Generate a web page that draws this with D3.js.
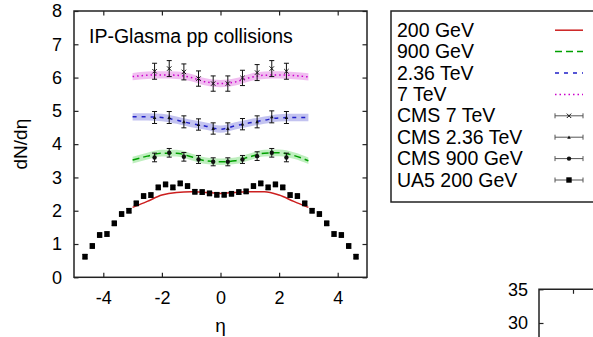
<!DOCTYPE html>
<html>
<head>
<meta charset="utf-8">
<script src="https://cdn.jsdelivr.net/npm/d3@7"></script>
<style>
  body { margin: 0; background: #fff; }
  svg { font-family: "Liberation Sans", Arial, sans-serif; }
</style>
</head>
<body>
<div class="container"></div>
<script>
// theory curves (IP-Glasma), eta grid
const thEta = [-3, -2.5, -2, -1.5, -1, -0.5, 0, 0.5, 1, 1.5, 2, 2.5, 3];
const th200 = [2.10, 2.28, 2.47, 2.55, 2.57, 2.55, 2.52, 2.55, 2.57, 2.57, 2.47, 2.28, 2.10];
const th900 = [3.52, 3.64, 3.73, 3.73, 3.62, 3.50, 3.47, 3.50, 3.62, 3.73, 3.74, 3.66, 3.50];
const th236 = [4.82, 4.82, 4.80, 4.72, 4.62, 4.54, 4.45, 4.55, 4.64, 4.72, 4.79, 4.80, 4.80];
const th7 = [6.03, 6.07, 6.08, 6.07, 6.00, 5.87, 5.82, 5.87, 6.00, 6.07, 6.08, 6.06, 6.02];
const bandHalf = [0, 0.10, 0.11, 0.11];

// CMS data
const cmsEta = [-2.25, -1.75, -1.25, -0.75, -0.25, 0.25, 0.75, 1.25, 1.75, 2.25];
const cms7 = [6.19, 6.27, 6.17, 5.97, 5.82, 5.82, 5.99, 6.15, 6.27, 6.19];
const cms7Err = [0.24, 0.24, 0.24, 0.23, 0.23, 0.23, 0.23, 0.24, 0.24, 0.24];
const cms236 = [4.80, 4.80, 4.67, 4.59, 4.47, 4.47, 4.60, 4.67, 4.82, 4.80];
const cms236Err = [0.18, 0.18, 0.18, 0.17, 0.17, 0.17, 0.17, 0.18, 0.18, 0.18];
const cms900 = [3.60, 3.74, 3.62, 3.54, 3.47, 3.47, 3.54, 3.64, 3.74, 3.60];
const cms900Err = [0.13, 0.13, 0.13, 0.12, 0.12, 0.12, 0.12, 0.13, 0.13, 0.13];

// UA5 data
const ua5Eta = [-4.625, -4.375, -4.125, -3.875, -3.625, -3.375, -3.125, -2.875, -2.625, -2.375,
  -2.125, -1.875, -1.625, -1.375, -1.125, -0.875, -0.625, -0.375, -0.125,
  0.125, 0.375, 0.625, 0.875, 1.125, 1.375, 1.625, 1.875, 2.125, 2.375,
  2.625, 2.875, 3.125, 3.375, 3.625, 3.875, 4.125, 4.375, 4.625];
const ua5 = [0.62, 0.94, 1.27, 1.30, 1.62, 1.90, 2.00, 2.22, 2.44, 2.47,
  2.70, 2.79, 2.70, 2.82, 2.74, 2.57, 2.56, 2.52, 2.48,
  2.48, 2.51, 2.56, 2.58, 2.74, 2.82, 2.70, 2.79, 2.70, 2.47,
  2.44, 2.22, 2.00, 1.90, 1.62, 1.30, 1.27, 0.94, 0.62];
const ua5Err = 0.07;

const xTicks = [-4, -2, 0, 2, 4];
const yTicks = [0, 1, 2, 3, 4, 5, 6, 7, 8];
const insetYTicks = [30, 35];
const insetXTicks = [1, 2];

const legendLabels = ["200 GeV", "900 GeV", "2.36 TeV", "7 TeV",
  "CMS 7 TeV", "CMS 2.36 TeV", "CMS 900 GeV", "UA5 200 GeV"];

const W = 593, H = 337;
const plot = { left: 74, top: 11, right: 367, bottom: 277.3 };

const svg = d3.select(".container").append("svg")
  .attr("width", W).attr("height", H);

const x = d3.scaleLinear().domain([-5, 5]).range([plot.left, plot.right]);
const y = d3.scaleLinear().domain([0, 8]).range([plot.bottom, plot.top]);

const colors = ["#cc1f1f", "#00a000", "#1f1fc8", "#cc00cc"];
const bands = ["none", "rgba(0,190,0,0.25)", "rgba(40,40,200,0.28)", "rgba(210,40,210,0.3)"];
const dashes = [null, "7,4", "4,5", "1.5,3"];
const theory = [th200, th900, th236, th7];

// bands + curves
theory.forEach((vals, i) => {
  const pts = thEta.map((e, j) => ({ e, v: vals[j] }));
  if (bandHalf[i] > 0) {
    svg.append("path")
      .datum(pts)
      .attr("fill", bands[i])
      .attr("d", d3.area()
        .x(d => x(d.e))
        .y0(d => y(d.v - bandHalf[i]))
        .y1(d => y(d.v + bandHalf[i]))
        .curve(d3.curveMonotoneX));
  }
  svg.append("path")
    .datum(pts)
    .attr("fill", "none")
    .attr("stroke", colors[i])
    .attr("stroke-width", 1.5)
    .attr("stroke-dasharray", dashes[i])
    .attr("d", d3.line().x(d => x(d.e)).y(d => y(d.v)).curve(d3.curveMonotoneX));
});

// error bars
const errBars = (eta, vals, errs) => {
  const g = svg.append("g").attr("stroke", "#111").attr("stroke-width", 1);
  eta.forEach((e, i) => {
    const err = Array.isArray(errs) ? errs[i] : errs;
    const cx = x(e), y0 = y(vals[i] - err), y1 = y(vals[i] + err);
    g.append("line").attr("x1", cx).attr("x2", cx).attr("y1", y0).attr("y2", y1);
    g.append("line").attr("x1", cx - 2.5).attr("x2", cx + 2.5).attr("y1", y0).attr("y2", y0);
    g.append("line").attr("x1", cx - 2.5).attr("x2", cx + 2.5).attr("y1", y1).attr("y2", y1);
  });
};
errBars(cmsEta, cms7, cms7Err);
errBars(cmsEta, cms236, cms236Err);
errBars(cmsEta, cms900, cms900Err);
errBars(ua5Eta, ua5, ua5Err);

// markers
const cross = (g, cx, cy, s) => g.append("path")
  .attr("d", `M${cx - s},${cy - s}L${cx + s},${cy + s}M${cx - s},${cy + s}L${cx + s},${cy - s}`)
  .attr("stroke", "#111").attr("stroke-width", 1).attr("fill", "none");
const tri = (g, cx, cy, s) => g.append("path")
  .attr("d", `M${cx},${cy - s}L${cx + s},${cy + s * 0.8}L${cx - s},${cy + s * 0.8}Z`)
  .attr("fill", "#111");

const mk = svg.append("g");
cmsEta.forEach((e, i) => cross(mk, x(e), y(cms7[i]), 2.2));
cmsEta.forEach((e, i) => tri(mk, x(e), y(cms236[i]), 1.8));
mk.selectAll(".c900").data(cmsEta).join("circle")
  .attr("cx", d => x(d)).attr("cy", (d, i) => y(cms900[i])).attr("r", 2.2).attr("fill", "#111");
mk.selectAll(".ua5").data(ua5Eta).join("rect")
  .attr("x", d => x(d) - 2.7).attr("y", (d, i) => y(ua5[i]) - 2.7)
  .attr("width", 5.4).attr("height", 5.4).attr("fill", "#000");

// axes with inward ticks on all sides
const fmt = d => String(d);
svg.append("g")
  .attr("transform", `translate(0,${plot.bottom})`)
  .call(d3.axisBottom(x).tickValues(xTicks).tickSize(-4.5).tickPadding(14).tickFormat(fmt))
  .call(g => g.select(".domain").remove());
svg.append("g")
  .attr("transform", `translate(0,${plot.top})`)
  .call(d3.axisTop(x).tickValues(xTicks).tickSize(-4.5).tickFormat(""))
  .call(g => g.select(".domain").remove());
svg.append("g")
  .attr("transform", `translate(${plot.left},0)`)
  .call(d3.axisLeft(y).tickValues(yTicks).tickSize(-4.5).tickPadding(12).tickFormat(fmt))
  .call(g => g.select(".domain").remove());
svg.append("g")
  .attr("transform", `translate(${plot.right},0)`)
  .call(d3.axisRight(y).tickValues(yTicks).tickSize(-4.5).tickFormat(""))
  .call(g => g.select(".domain").remove());
svg.selectAll(".tick text").attr("font-size", 18).attr("fill", "#000")
  .attr("font-family", "'Liberation Sans', Arial, sans-serif");
svg.selectAll(".tick line").attr("stroke", "#222").attr("stroke-width", 1.2);

svg.append("rect")
  .attr("x", plot.left).attr("y", plot.top)
  .attr("width", plot.right - plot.left).attr("height", plot.bottom - plot.top)
  .attr("fill", "none").attr("stroke", "#222").attr("stroke-width", 1.5);

// labels
svg.append("text")
  .attr("transform", `translate(27,${(plot.top + plot.bottom) / 2}) rotate(-90)`)
  .attr("text-anchor", "middle").attr("font-size", 19)
  .text("dN/dη");
svg.append("text")
  .attr("x", x(0)).attr("y", 332)
  .attr("text-anchor", "middle").attr("font-size", 19)
  .text("η");
svg.append("text")
  .attr("x", 89).attr("y", 43).attr("font-size", 19.5)
  .text("IP-Glasma pp collisions");

// legend
const lg = svg.append("g");
lg.append("rect").attr("x", 391).attr("y", 11).attr("width", 230).attr("height", 191)
  .attr("fill", "none").attr("stroke", "#222").attr("stroke-width", 1.5);
legendLabels.forEach((t, i) => {
  const base = 36.7 + i * 21.4, cy = base - 6.5;
  lg.append("text").attr("x", 397).attr("y", base).attr("font-size", 19.5).text(t);
  if (i < 4) {
    lg.append("line").attr("x1", 555).attr("x2", 583).attr("y1", cy).attr("y2", cy)
      .attr("stroke", colors[i]).attr("stroke-width", 1.5)
      .attr("stroke-dasharray", dashes[i]);
  } else {
    const g = lg.append("g").attr("stroke", "#555").attr("stroke-width", 1);
    g.append("line").attr("x1", 555).attr("x2", 583).attr("y1", cy).attr("y2", cy);
    g.append("line").attr("x1", 555).attr("x2", 555).attr("y1", cy - 2.5).attr("y2", cy + 2.5);
    g.append("line").attr("x1", 583).attr("x2", 583).attr("y1", cy - 2.5).attr("y2", cy + 2.5);
    if (i === 4) cross(lg, 569, cy, 2.2);
    if (i === 5) tri(lg, 569, cy, 1.8);
    if (i === 6) lg.append("circle").attr("cx", 569).attr("cy", cy).attr("r", 2.2).attr("fill", "#111");
    if (i === 7) lg.append("rect").attr("x", 566.3).attr("y", cy - 2.7).attr("width", 5.4).attr("height", 5.4).attr("fill", "#000");
  }
});

// inset (second panel, mostly off-screen)
const ix = d3.scaleLinear().domain([0, 2]).range([539, 607]);
const iy = d3.scaleLinear().domain([0, 35]).range([289.3 + 35 * 6.74, 289.3]);
svg.append("g")
  .attr("transform", "translate(539,0)")
  .call(d3.axisLeft(iy).tickValues(insetYTicks).tickSize(-4.5).tickPadding(11).tickFormat(fmt))
  .call(g => g.select(".domain").remove())
  .call(g => g.selectAll("text").attr("font-size", 18).attr("fill", "#000"))
  .call(g => g.selectAll("line").attr("stroke", "#222").attr("stroke-width", 1.2));
svg.append("g")
  .attr("transform", "translate(0,289.3)")
  .call(d3.axisTop(ix).tickValues(insetXTicks).tickSize(-4.5).tickFormat(""))
  .call(g => g.select(".domain").remove())
  .call(g => g.selectAll("line").attr("stroke", "#222").attr("stroke-width", 1.2));
svg.append("path")
  .attr("d", `M539,${H + 2}L539,289.3L${W + 2},289.3`)
  .attr("fill", "none").attr("stroke", "#222").attr("stroke-width", 1.5);
</script>
</body>
</html>
